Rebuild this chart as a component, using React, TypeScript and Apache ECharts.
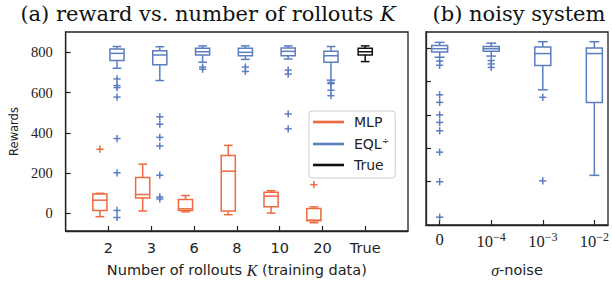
import React, { useEffect, useRef } from 'react';
import * as echarts from 'echarts';

// ---------- data ----------
const rolloutLabels = ['2', '3', '6', '8', '10', '20', 'True'];
// each entry: [min whisker, q1, median, q3, max whisker]
const mlpStats = [
  [-16, 15, 66, 97, 100],
  [12, 77, 94, 179, 245],
  [8, 15, 23, 70, 89],
  [-6, 12, 210, 288, 338],
  [2, 33, 86, 105, 113],
  [-46, -36, -33, 25, 33],
];
const mlpOutliers = [[319], [], [], [], [], [143]];
const eqlStats = [
  [721, 759, 795, 816, 829],
  [660, 739, 787, 808, 828],
  [751, 787, 803, 820, 832],
  [765, 783, 800, 820, 832],
  [767, 783, 805, 821, 832],
  [662, 751, 783, 805, 829],
];
const eqlOutliers = [
  [668, 635, 625, 578, 372, 202, 15, -20],
  [480, 443, 378, 335, 190, 82, 72],
  [727, 716],
  [727, 705],
  [712, 692, 494, 420],
  [650, 645, 612, 585],
];
const trueStats = [754, 787, 803, 820, 832];

const noiseLabels = ['0', '10{sup|−4}', '10{sup|−3}', '10{sup|−2}'];
const noisyStats = [
  [745, 777, 796, 815, 834],
  [752, 781, 796, 809, 829],
  [550, 696, 767, 806, 838],
  [38, 474, 767, 800, 838],
];
const noisyOutliers = [
  [722, 697, 520, 475, 400, 355, 305, 177, 0, -212],
  [725, 705, 684],
  [505, 5],
  [],
];
const rewardTicks = [0, 200, 400, 600, 800];

// ---------- styling ----------
const ORANGE = '#EE6A3E';
const BLUE = '#5A7EC0';
const BLACK = '#111111';
const FRAME = '#222222';
const SERIF = 'Liberation Serif';
const TITLE_SERIF = 'DejaVu Serif';
const SANS = 'DejaVu Sans';

const boxRender = (offset: number, boxW: number, color: string) => (params: any, api: any) => {
  const x = api.value(0) + offset;
  const mn = api.coord([x, api.value(1)]);
  const q1 = api.coord([x, api.value(2)]);
  const md = api.coord([x, api.value(3)]);
  const q3 = api.coord([x, api.value(4)]);
  const mx = api.coord([x, api.value(5)]);
  const w = api.size([boxW, 0])[0];
  const cw = w * 0.62;
  const cx = mn[0];
  const style = { stroke: color, lineWidth: 1.5, fill: 'none' };
  return {
    type: 'group',
    children: [
      { type: 'line', shape: { x1: cx, y1: q3[1], x2: cx, y2: mx[1] }, style },
      { type: 'line', shape: { x1: cx, y1: q1[1], x2: cx, y2: mn[1] }, style },
      { type: 'line', shape: { x1: cx - cw / 2, y1: mx[1], x2: cx + cw / 2, y2: mx[1] }, style },
      { type: 'line', shape: { x1: cx - cw / 2, y1: mn[1], x2: cx + cw / 2, y2: mn[1] }, style },
      { type: 'rect', shape: { x: cx - w / 2, y: q3[1], width: w, height: q1[1] - q3[1] }, style: { ...style, fill: '#ffffff' } },
      { type: 'line', shape: { x1: cx - w / 2, y1: md[1], x2: cx + w / 2, y2: md[1] }, style },
    ],
  };
};

const plusRender = (offset: number, color: string) => (params: any, api: any) => {
  const p = api.coord([api.value(0) + offset, api.value(1)]);
  const s = 3.6;
  const style = { stroke: color, lineWidth: 1.5 };
  return {
    type: 'group',
    children: [
      { type: 'line', shape: { x1: p[0] - s, y1: p[1], x2: p[0] + s, y2: p[1] }, style },
      { type: 'line', shape: { x1: p[0], y1: p[1] - s, x2: p[0], y2: p[1] + s }, style },
    ],
  };
};

const statsData = (stats: number[][], start: number) => stats.map((s, i) => [i + start, ...s]);
const outlierData = (outs: number[][], start: number) => {
  const res: number[][] = [];
  outs.forEach((arr, i) => arr.forEach((v) => res.push([i + start, v])));
  return res;
};

export default function App() {
  const ref = useRef<HTMLDivElement>(null);
  useEffect(() => {
    if (!ref.current) return;
    const chart = echarts.init(ref.current, null, { renderer: 'svg' });
    const axisLineStyle = { color: FRAME, width: 1.3 };
    const tickStyle = { color: FRAME, width: 1.2 };
    const option: any = {
      animation: false,
      backgroundColor: '#ffffff',
      grid: [
        { left: 64, top: 32, width: 344, height: 201, show: true, borderColor: FRAME, borderWidth: 1.3, backgroundColor: 'transparent' },
        { left: 426, top: 32, width: 182, height: 201, show: true, borderColor: FRAME, borderWidth: 1.3, backgroundColor: 'transparent' },
      ],
      xAxis: [
        {
          type: 'value', gridIndex: 0, min: 0, max: 8,
          axisLine: { show: true, onZero: false, lineStyle: axisLineStyle },
          axisTick: { show: true, inside: true, length: 5, lineStyle: tickStyle, customValues: [1, 2, 3, 4, 5, 6, 7] },
          axisLabel: {
            customValues: [1, 2, 3, 4, 5, 6, 7],
            formatter: (v: number) => rolloutLabels[Math.round(v) - 1] ?? '',
            fontFamily: SANS, fontSize: 14.5, color: '#222', margin: 9,
          },
          splitLine: { show: false },
          name: 'Number of rollouts {k|K} (training data)',
          nameLocation: 'middle', nameGap: 31,
          nameTextStyle: {
            fontFamily: SANS, fontSize: 14.5, color: '#222',
            rich: { k: { fontFamily: SERIF, fontStyle: 'italic', fontSize: 16, color: '#222' } },
          },
        },
        {
          type: 'value', gridIndex: 1, min: -0.265, max: 3.265,
          axisLine: { show: true, onZero: false, lineStyle: axisLineStyle },
          axisTick: { show: true, inside: true, length: 5, lineStyle: tickStyle, customValues: [0, 1, 2, 3] },
          axisLabel: {
            customValues: [0, 1, 2, 3],
            formatter: (v: number) => noiseLabels[Math.round(v)] ?? '',
            fontFamily: SERIF, fontSize: 16.5, color: '#222', margin: 6,
            rich: { sup: { fontFamily: SERIF, fontSize: 12, color: '#222', padding: [0, 0, 8, 0] } },
          },
          splitLine: { show: false },
          name: '{s|σ}-noise',
          nameLocation: 'middle', nameGap: 37,
          nameTextStyle: {
            fontFamily: SANS, fontSize: 14.5, color: '#222',
            rich: { s: { fontFamily: SERIF, fontStyle: 'italic', fontSize: 16, color: '#222' } },
          },
        },
      ],
      yAxis: [
        {
          type: 'value', gridIndex: 0, min: -87, max: 901,
          axisLine: { show: true, onZero: false, lineStyle: axisLineStyle },
          axisTick: { show: true, inside: true, length: 5, lineStyle: tickStyle, customValues: rewardTicks },
          axisLabel: { customValues: rewardTicks, fontFamily: SERIF, fontSize: 14.5, color: '#222', margin: 13 },
          splitLine: { show: false },
          name: 'Rewards', nameLocation: 'middle', nameGap: 44,
          nameTextStyle: { fontFamily: SANS, fontSize: 11.5, color: '#222' },
        },
        {
          type: 'value', gridIndex: 1, min: -259, max: 896,
          axisLine: { show: true, onZero: false, lineStyle: axisLineStyle },
          axisTick: { show: true, inside: true, length: 5, lineStyle: tickStyle, customValues: rewardTicks },
          axisLabel: { show: false },
          splitLine: { show: false },
        },
      ],
      legend: {
        orient: 'vertical', left: 309, top: 111,
        padding: [4, 6, 6, 4], itemGap: 7, itemWidth: 31, itemHeight: 2.6,
        icon: 'rect', selectedMode: false,
        borderColor: '#cccccc', borderWidth: 1, borderRadius: 3, backgroundColor: '#ffffff',
        data: ['MLP', 'EQL÷', 'True'],
        formatter: (name: string) => (name === 'EQL÷' ? 'EQL{sup|÷}' : name),
        textStyle: {
          fontFamily: SANS, fontSize: 14, color: '#222', padding: [0, 0, 0, 5],
          rich: { sup: { fontFamily: SANS, fontSize: 9, color: '#222', padding: [0, 0, 7, 0] } },
        },
      },
      graphic: [
        {
          type: 'text', x: 208, y: 14,
          style: {
            text: '(a) reward vs. number of rollouts {k|K}',
            fontFamily: TITLE_SERIF, fontSize: 21, fill: '#111',
            textAlign: 'center', textVerticalAlign: 'middle',
            rich: { k: { fontFamily: TITLE_SERIF, fontStyle: 'italic', fontSize: 21, fill: '#111' } },
          },
        },
        {
          type: 'text', x: 519, y: 14,
          style: {
            text: '(b) noisy system',
            fontFamily: TITLE_SERIF, fontSize: 21, fill: '#111',
            textAlign: 'center', textVerticalAlign: 'middle',
          },
        },
      ],
      series: [
        {
          name: 'MLP', type: 'custom', xAxisIndex: 0, yAxisIndex: 0,
          itemStyle: { color: ORANGE }, data: statsData(mlpStats, 1),
          encode: { x: 0, y: [1, 2, 3, 4, 5] }, renderItem: boxRender(-0.2, 0.33, ORANGE),
        },
        {
          name: 'MLP', type: 'custom', xAxisIndex: 0, yAxisIndex: 0,
          itemStyle: { color: ORANGE }, data: outlierData(mlpOutliers, 1),
          encode: { x: 0, y: 1 }, renderItem: plusRender(-0.2, ORANGE),
        },
        {
          name: 'EQL÷', type: 'custom', xAxisIndex: 0, yAxisIndex: 0,
          itemStyle: { color: BLUE }, data: statsData(eqlStats, 1),
          encode: { x: 0, y: [1, 2, 3, 4, 5] }, renderItem: boxRender(0.2, 0.33, BLUE),
        },
        {
          name: 'EQL÷', type: 'custom', xAxisIndex: 0, yAxisIndex: 0,
          itemStyle: { color: BLUE }, data: outlierData(eqlOutliers, 1),
          encode: { x: 0, y: 1 }, renderItem: plusRender(0.2, BLUE),
        },
        {
          name: 'True', type: 'custom', xAxisIndex: 0, yAxisIndex: 0,
          itemStyle: { color: BLACK }, data: statsData([trueStats], 7),
          encode: { x: 0, y: [1, 2, 3, 4, 5] }, renderItem: boxRender(0, 0.33, BLACK),
        },
        {
          name: 'noisy', type: 'custom', xAxisIndex: 1, yAxisIndex: 1,
          itemStyle: { color: BLUE }, data: statsData(noisyStats, 0),
          encode: { x: 0, y: [1, 2, 3, 4, 5] }, renderItem: boxRender(0, 0.31, BLUE),
        },
        {
          name: 'noisy', type: 'custom', xAxisIndex: 1, yAxisIndex: 1,
          itemStyle: { color: BLUE }, data: outlierData(noisyOutliers, 0),
          encode: { x: 0, y: 1 }, renderItem: plusRender(0, BLUE),
        },
      ],
    };
    chart.setOption(option);
    return () => chart.dispose();
  }, []);
  return <div ref={ref} style={{ position: 'fixed', left: 0, top: 0, width: 612, height: 283 }} />;
}
